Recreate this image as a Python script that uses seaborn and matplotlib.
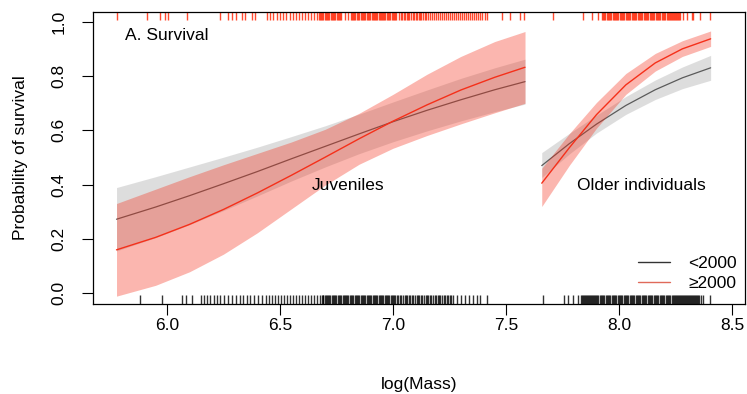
import numpy as np
import pandas as pd
import matplotlib
matplotlib.use("Agg")
import matplotlib.pyplot as plt
import seaborn as sns
from matplotlib.lines import Line2D

# ---------------- data ----------------
juv_x = [5.777, 5.95, 6.1, 6.25, 6.4, 6.55, 6.7, 6.85, 7.0, 7.15, 7.3, 7.45, 7.584]
juv_lt_mean = [0.272, 0.317, 0.359, 0.403, 0.448, 0.495, 0.541, 0.587, 0.632, 0.674, 0.713, 0.750, 0.780]
juv_lt_lo = [0.155, 0.204, 0.252, 0.304, 0.358, 0.413, 0.465, 0.514, 0.558, 0.598, 0.635, 0.669, 0.697]
juv_lt_hi = [0.389, 0.429, 0.465, 0.501, 0.538, 0.577, 0.617, 0.660, 0.705, 0.749, 0.792, 0.831, 0.863]
juv_ge_mean = [0.159, 0.205, 0.253, 0.308, 0.369, 0.434, 0.501, 0.569, 0.634, 0.694, 0.749, 0.796, 0.833]
juv_ge_lo = [-0.012, 0.028, 0.078, 0.143, 0.222, 0.310, 0.398, 0.475, 0.534, 0.581, 0.624, 0.665, 0.700]
juv_ge_hi = [0.330, 0.383, 0.429, 0.473, 0.515, 0.557, 0.604, 0.663, 0.733, 0.807, 0.873, 0.928, 0.965]

old_x = [7.658, 7.78, 7.90, 8.03, 8.16, 8.28, 8.405]
old_lt_mean = [0.470, 0.551, 0.623, 0.692, 0.750, 0.794, 0.831]
old_lt_lo = [0.426, 0.513, 0.590, 0.659, 0.714, 0.754, 0.785]
old_lt_hi = [0.518, 0.589, 0.656, 0.725, 0.786, 0.834, 0.877]
old_ge_mean = [0.405, 0.536, 0.658, 0.768, 0.849, 0.901, 0.938]
old_ge_lo = [0.319, 0.471, 0.608, 0.733, 0.819, 0.873, 0.910]
old_ge_hi = [0.460, 0.588, 0.703, 0.810, 0.884, 0.931, 0.967]

# rug: masses of individuals that survived (top, red) / died (bottom, black)
rug_top = [5.779, 5.912, 5.969, 5.991, 6.004, 6.088, 6.235, 6.270, 6.288, 6.305,
           6.331, 6.345, 6.375, 6.389, 6.441, 6.456, 6.469, 6.485, 6.500, 6.513,
           6.527, 6.544, 6.558, 6.571, 6.584, 6.597, 6.611, 6.624, 6.637, 6.650,
           6.664, 6.672, 6.681, 6.686, 6.699, 6.708, 6.713, 6.726, 6.735, 6.741,
           6.752, 6.761, 6.770, 6.788, 6.801, 6.819, 6.827, 6.834, 6.845, 6.851,
           6.863, 6.872, 6.878, 6.889, 6.898, 6.905, 6.916, 6.925, 6.931, 6.943,
           6.951, 6.960, 6.966, 6.978, 6.987, 6.994, 7.005, 7.013, 7.027, 7.040,
           7.053, 7.066, 7.080, 7.093, 7.106, 7.119, 7.133, 7.146, 7.164, 7.181,
           7.199, 7.217, 7.235, 7.252, 7.270, 7.288, 7.305, 7.323, 7.341, 7.358,
           7.376, 7.394, 7.407, 7.415, 7.481, 7.518, 7.562, 7.580, 7.708, 7.841,
           7.879, 7.907, 7.923, 7.932, 7.938, 7.950, 7.959, 7.964, 7.976, 7.985,
           7.991, 8.003, 8.012, 8.018, 8.029, 8.038, 8.044, 8.056, 8.065, 8.071,
           8.083, 8.091, 8.097, 8.109, 8.118, 8.124, 8.136, 8.144, 8.150, 8.162,
           8.171, 8.177, 8.189, 8.198, 8.204, 8.215, 8.224, 8.233, 8.242, 8.251,
           8.260, 8.270, 8.283, 8.301, 8.323, 8.327, 8.358, 8.403,
           6.676, 6.690, 6.704, 6.717, 6.730, 6.745, 6.757, 6.766, 6.814, 6.823,
           6.840, 6.858, 6.868, 6.884, 6.894, 6.911, 6.920, 6.938, 6.947, 6.956,
           6.973, 6.982, 7.000, 7.009, 7.034, 7.047, 7.060, 7.073, 7.087, 7.100,
           7.113, 7.126, 7.140, 7.155, 7.172, 7.190, 7.208, 7.226, 7.244, 7.261,
           7.279, 7.297, 7.314, 7.332, 7.350, 7.367, 7.385, 7.927, 7.945, 7.954,
           7.971, 7.980, 7.997, 8.007, 8.024, 8.033, 8.050, 8.060, 8.077, 8.087,
           8.103, 8.113, 8.130, 8.140, 8.156, 8.166, 8.183, 8.193, 8.210, 8.219,
           8.228, 8.237, 8.246, 8.255, 8.265]
rug_bottom = [5.881, 5.976, 6.066, 6.084, 6.111, 6.150, 6.164, 6.177, 6.190, 6.208,
              6.221, 6.235, 6.252, 6.270, 6.288, 6.305, 6.323, 6.336, 6.354, 6.367,
              6.385, 6.403, 6.420, 6.438, 6.451, 6.465, 6.478, 6.491, 6.504, 6.518,
              6.531, 6.544, 6.558, 6.571, 6.584, 6.597, 6.611, 6.624, 6.637, 6.650,
              6.664, 6.677, 6.686, 6.692, 6.704, 6.712, 6.718, 6.730, 6.739, 6.744,
              6.757, 6.766, 6.771, 6.783, 6.792, 6.797, 6.810, 6.819, 6.824, 6.836,
              6.845, 6.850, 6.863, 6.872, 6.877, 6.890, 6.898, 6.903, 6.916, 6.925,
              6.930, 6.943, 6.952, 6.957, 6.969, 6.978, 6.983, 6.996, 7.005, 7.010,
              7.022, 7.031, 7.044, 7.058, 7.071, 7.084, 7.097, 7.111, 7.124, 7.137,
              7.150, 7.164, 7.177, 7.190, 7.204, 7.217, 7.230, 7.243, 7.257, 7.265,
              7.283, 7.301, 7.319, 7.336, 7.354, 7.372, 7.385, 7.416, 7.664, 7.757,
              7.774, 7.796, 7.819, 7.832, 7.841, 7.850, 7.858, 7.867, 7.876, 7.885,
              7.894, 7.903, 7.908, 7.920, 7.929, 7.934, 7.947, 7.956, 7.961, 7.973,
              7.982, 7.987, 8.000, 8.009, 8.014, 8.027, 8.035, 8.040, 8.053, 8.062,
              8.067, 8.080, 8.088, 8.093, 8.106, 8.115, 8.120, 8.133, 8.142, 8.147,
              8.159, 8.168, 8.173, 8.186, 8.195, 8.200, 8.212, 8.221, 8.226, 8.239,
              8.248, 8.257, 8.265, 8.274, 8.283, 8.292, 8.301, 8.310, 8.319, 8.327,
              8.336, 8.345, 8.354, 8.363, 8.372, 8.403,
              6.690, 6.699, 6.708, 6.721, 6.734, 6.748, 6.761, 6.777, 6.788, 6.803,
              6.814, 6.830, 6.841, 6.857, 6.867, 6.885, 6.894, 6.910, 6.921, 6.937,
              6.947, 6.963, 6.974, 6.990, 7.000, 7.016, 7.037, 7.051, 7.064, 7.077,
              7.090, 7.104, 7.117, 7.130, 7.144, 7.157, 7.170, 7.184, 7.197, 7.210,
              7.224, 7.237, 7.250, 7.837, 7.846, 7.854, 7.862, 7.871, 7.880, 7.889,
              7.898, 7.915, 7.925, 7.942, 7.951, 7.968, 7.977, 7.995, 8.004, 8.022,
              8.031, 8.048, 8.057, 8.075, 8.084, 8.101, 8.110, 8.128, 8.137, 8.154,
              8.163, 8.181, 8.190, 8.207, 8.217, 8.234, 8.243, 8.252, 8.261, 8.270,
              8.279, 8.288, 8.297, 8.306, 8.315, 8.324, 8.332, 8.340, 8.350]

x_ticks = [6.0, 6.5, 7.0, 7.5, 8.0, 8.5]
y_ticks = [0.0, 0.2, 0.4, 0.6, 0.8, 1.0]
legend_labels = ["<2000", "\u22652000"]

# ---------------- style ----------------
sns.set_style("white")
plt.rcParams["font.family"] = ["Liberation Sans", "DejaVu Sans"]
for k in ["text.color", "axes.labelcolor", "xtick.color", "ytick.color"]:
    plt.rcParams[k] = "black"
FS = 12.5

GREY_BAND = "#BDBDBD"
GREY_LINE = "#5a5a5a"
RED = "#F5301A"

fig = plt.figure(figsize=(7.47, 3.94), dpi=100)
ax = fig.add_axes([0.1245, 0.2284, 0.8728, 0.7411])

# grey (<2000) bands and lines, then red (>=2000)
for x, m, lo, hi in [(juv_x, juv_lt_mean, juv_lt_lo, juv_lt_hi),
                     (old_x, old_lt_mean, old_lt_lo, old_lt_hi)]:
    ax.fill_between(x, lo, hi, color=GREY_BAND, alpha=0.5, lw=0, zorder=1)
    sns.lineplot(x=x, y=m, color=GREY_LINE, lw=0.9, ax=ax, zorder=2,
                 estimator=None, sort=False)
for x, m, lo, hi in [(juv_x, juv_ge_mean, juv_ge_lo, juv_ge_hi),
                     (old_x, old_ge_mean, old_ge_lo, old_ge_hi)]:
    ax.fill_between(x, lo, hi, color=RED, alpha=0.35, lw=0, zorder=3)
    sns.lineplot(x=x, y=m, color=RED, lw=1.0, ax=ax, zorder=4,
                 estimator=None, sort=False)

# rugs
sns.rugplot(x=rug_bottom, height=0.03, color="black", alpha=0.8, lw=1.0, ax=ax,
            expand_margins=False)
ax.vlines(rug_top, 1 - 0.027, 1, transform=ax.get_xaxis_transform(),
          color="#FF2A0A", alpha=0.85, lw=1.0)

# annotations
ax.text(5.814, 0.952, "A. Survival", fontsize=FS, ha="left", va="center")
ax.text(6.80, 0.396, "Juveniles", fontsize=FS, ha="center", va="center")
ax.text(8.097, 0.396, "Older individuals", fontsize=FS, ha="center", va="center")

handles = [Line2D([], [], color="#333333", lw=1.0),
           Line2D([], [], color="#E06A5A", lw=1.0)]
ax.legend(handles, legend_labels, frameon=False, fontsize=FS,
          loc="lower right", bbox_to_anchor=(1.012, -0.008),
          handlelength=1.85, handletextpad=1.05, labelspacing=0.25)

ax.set_xlim(5.673, 8.557)
ax.set_ylim(-0.041, 1.037)
ax.set_xticks(x_ticks)
ax.set_xticklabels([f"{v:.1f}" for v in x_ticks], fontsize=FS)
ax.set_yticks(y_ticks)
ax.set_yticklabels([f"{v:.1f}" for v in y_ticks], fontsize=FS,
                   rotation=90, va="center")
ax.tick_params(axis="both", direction="out", length=8, width=0.8,
               color="black", bottom=True, left=True)
ax.tick_params(axis="x", pad=2)
ax.tick_params(axis="y", pad=11)
ax.set_xlabel("log(Mass)", fontsize=FS, labelpad=32)
ax.set_ylabel("Probability of survival", fontsize=FS, labelpad=17)
for s in ax.spines.values():
    s.set_visible(True)
    s.set_color("black")
    s.set_linewidth(0.9)

fig.savefig("out.png", dpi=100)
